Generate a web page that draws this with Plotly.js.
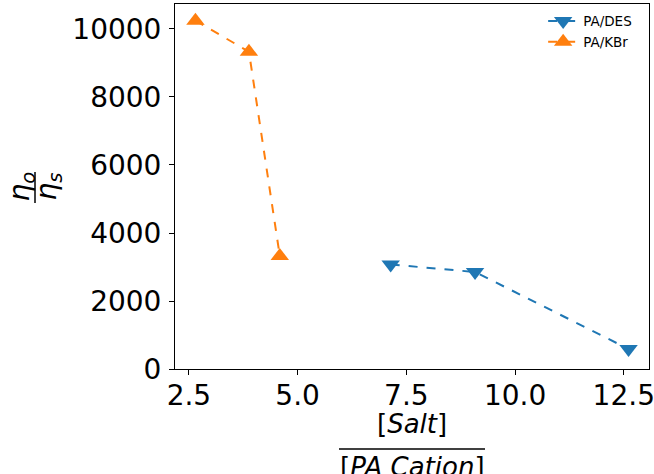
<!DOCTYPE html>
<html>
<head>
<meta charset="utf-8">
<script src="https://cdn.plot.ly/plotly-3.0.1.min.js"></script>
<style>
html,body{margin:0;padding:0;background:#fff;}
#chart{width:654px;height:474px;}
</style>
</head>
<body>
<div id="chart"></div>
<script>
var desX = [7.14, 9.08, 12.61];
var desY = [3074, 2853, 588];
var kbrX = [2.65, 3.88, 4.59];
var kbrY = [10244, 9332, 3324];
var seriesNames = ["PA/DES", "PA/KBr"];
var xTicks = [2.5, 5.0, 7.5, 10.0, 12.5];
var xTickText = ["2.5", "5.0", "7.5", "10.0", "12.5"];
var yTicks = [0, 2000, 4000, 6000, 8000, 10000];
var yTickText = ["0", "2000", "4000", "6000", "8000", "10000"];

var font = "DejaVu Sans, sans-serif";

var traces = [
  {
    x: desX, y: desY, name: seriesNames[0], type: "scatter", mode: "lines+markers",
    line: {color: "#1f77b4", width: 2, dash: "dash"},
    marker: {symbol: "triangle-down", size: 16, color: "#1f77b4"}
  },
  {
    x: kbrX, y: kbrY, name: seriesNames[1], type: "scatter", mode: "lines+markers",
    line: {color: "#ff7f0e", width: 2, dash: "dash"},
    marker: {symbol: "triangle-up", size: 16, color: "#ff7f0e"}
  }
];

var axisCommon = {
  showgrid: false, zeroline: false,
  showline: true, mirror: true, linecolor: "#000", linewidth: 1,
  ticks: "outside", ticklen: 5, tickwidth: 1, tickcolor: "#000",
  tickfont: {family: font, size: 28, color: "#000"},
  ticklabeloverflow: "allow"
};

var layout = {
  width: 654, height: 474,
  margin: {l: 175, r: 5, t: 4, b: 105},
  paper_bgcolor: "#fff", plot_bgcolor: "#fff",
  showlegend: true,
  legend: {
    x: 0.975, y: 0.995, xanchor: "right", yanchor: "top",
    bgcolor: "rgba(255,255,255,0)", borderwidth: 0,
    font: {family: font, size: 13.5, color: "#000"},
    itemsizing: "trace", tracegroupgap: 0
  },
  xaxis: Object.assign({}, axisCommon, {
    range: [2.18, 13.08], tickvals: xTicks, ticktext: xTickText,
    ticklabelstandoff: -4
  }),
  yaxis: Object.assign({}, axisCommon, {
    range: [0, 10735], tickvals: yTicks, ticktext: yTickText,
    ticklabelstandoff: 2
  }),
  annotations: [
    {xref: "paper", yref: "paper", x: 0.5, y: -0.105, xanchor: "center", yanchor: "top",
     text: "[<i>Salt</i>]", showarrow: false, font: {family: font, size: 26, color: "#000"}},
    {xref: "paper", yref: "paper", x: 0.5, y: -0.222, xanchor: "center", yanchor: "top",
     text: "[<i>PA Cation</i>]", showarrow: false, font: {family: font, size: 26, color: "#000"}},
    {xref: "paper", yref: "paper", x: -0.3228, y: 0.5, xanchor: "center", yanchor: "middle",
     text: "<i>η</i><sub><i>o</i></sub>", textangle: -90, showarrow: false,
     font: {family: font, size: 28, color: "#000"}},
    {xref: "paper", yref: "paper", x: -0.266, y: 0.5, xanchor: "center", yanchor: "middle",
     text: "<i>η</i><sub><i>s</i></sub>", textangle: -90, showarrow: false,
     font: {family: font, size: 28, color: "#000"}}
  ],
  shapes: [
    {type: "line", xref: "paper", yref: "paper",
     x0: (339 - 175) / 474, x1: (485 - 175) / 474,
     y0: (369 - 449) / 365, y1: (369 - 449) / 365,
     line: {color: "#000", width: 1.5}},
    {type: "line", xref: "paper", yref: "paper",
     x0: (35 - 175) / 474, x1: (35 - 175) / 474,
     y0: (369 - 172) / 365, y1: (369 - 203) / 365,
     line: {color: "#000", width: 1.5}}
  ]
};

Plotly.newPlot("chart", traces, layout, {displayModeBar: false, staticPlot: true});
</script>
</body>
</html>
